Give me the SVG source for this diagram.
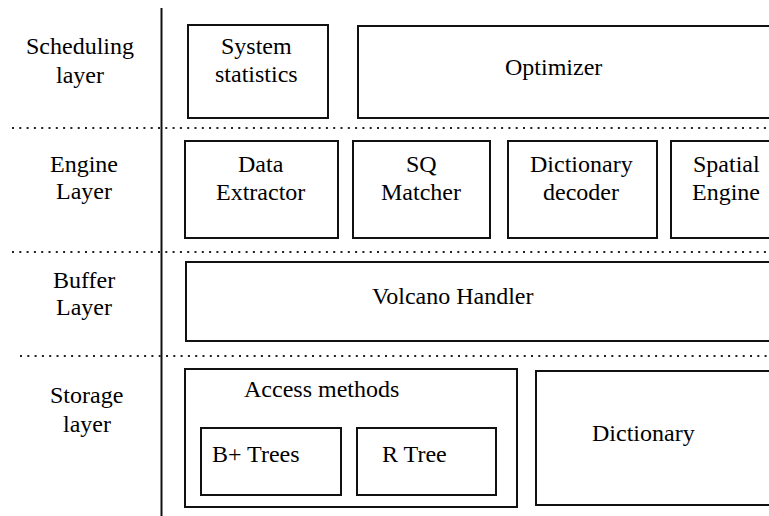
<svg xmlns="http://www.w3.org/2000/svg" width="769" height="516" viewBox="0 0 769 516">
<style>
.box{fill:#fff;stroke:#111;stroke-width:2}
.dot{stroke:#222;stroke-width:2;stroke-dasharray:2 5.3;fill:none}
.axis{stroke:#111;stroke-width:2;fill:none}
</style>
<rect width="769" height="516" fill="#fff"/>
<g id="connectors">
<line class="axis" x1="161.5" y1="8" x2="161.5" y2="516"/>
<line class="dot" x1="12" y1="128" x2="769" y2="128"/>
<line class="dot" x1="12" y1="252" x2="769" y2="252"/>
<line class="dot" x1="20" y1="356" x2="769" y2="356"/>
</g>
<g id="label-scheduling"><text font-family="Liberation Serif" font-size="24" x="26" y="54">Scheduling</text><text font-family="Liberation Serif" font-size="24" x="56" y="83">layer</text></g>
<g id="label-engine"><text font-family="Liberation Serif" font-size="24" x="50" y="172">Engine</text><text font-family="Liberation Serif" font-size="24" x="56" y="199">Layer</text></g>
<g id="label-buffer"><text font-family="Liberation Serif" font-size="24" x="53" y="288">Buffer</text><text font-family="Liberation Serif" font-size="24" x="56" y="315">Layer</text></g>
<g id="label-storage"><text font-family="Liberation Serif" font-size="24" x="50" y="403">Storage</text><text font-family="Liberation Serif" font-size="24" x="63" y="432">layer</text></g>
<g id="system-statistics"><rect class="box" x="188" y="25" width="140" height="93"/><text font-family="Liberation Serif" font-size="24" x="221" y="54">System</text><text font-family="Liberation Serif" font-size="24" x="215" y="82">statistics</text></g>
<g id="optimizer"><rect class="box" x="358" y="26" width="420" height="92"/><text font-family="Liberation Serif" font-size="24" x="505" y="75">Optimizer</text></g>
<g id="data-extractor"><rect class="box" x="185" y="141" width="153" height="97"/><text font-family="Liberation Serif" font-size="24" x="238" y="172">Data</text><text font-family="Liberation Serif" font-size="24" x="216" y="200">Extractor</text></g>
<g id="sq-matcher"><rect class="box" x="353" y="141" width="137" height="97"/><text font-family="Liberation Serif" font-size="24" x="406" y="172">SQ</text><text font-family="Liberation Serif" font-size="24" x="381" y="200">Matcher</text></g>
<g id="dictionary-decoder"><rect class="box" x="508" y="141" width="149" height="97"/><text font-family="Liberation Serif" font-size="24" x="530" y="172">Dictionary</text><text font-family="Liberation Serif" font-size="24" x="543" y="200">decoder</text></g>
<g id="spatial-engine"><rect class="box" x="671" y="141" width="110" height="97"/><text font-family="Liberation Serif" font-size="24" x="693" y="172">Spatial</text><text font-family="Liberation Serif" font-size="24" x="692" y="200">Engine</text></g>
<g id="volcano-handler"><rect class="box" x="186" y="262" width="595" height="79"/><text font-family="Liberation Serif" font-size="24" x="372" y="304">Volcano Handler</text></g>
<g id="access-methods"><rect class="box" x="185" y="369" width="332" height="138"/><text font-family="Liberation Serif" font-size="24" x="244" y="397">Access methods</text></g>
<g id="b-trees"><rect class="box" x="201" y="428" width="140" height="67"/><text font-family="Liberation Serif" font-size="24" x="212" y="462">B+ Trees</text></g>
<g id="r-tree"><rect class="box" x="357" y="428" width="139" height="67"/><text font-family="Liberation Serif" font-size="24" x="382" y="462">R Tree</text></g>
<g id="dictionary"><rect class="box" x="536" y="371" width="245" height="134"/><text font-family="Liberation Serif" font-size="24" x="592" y="441">Dictionary</text></g>
</svg>
